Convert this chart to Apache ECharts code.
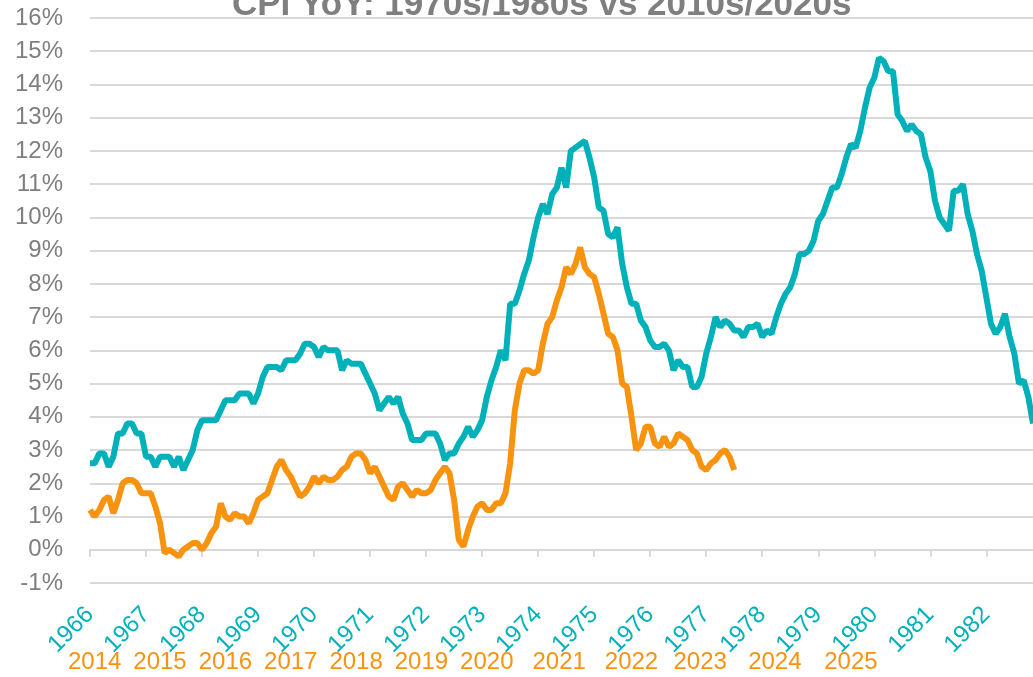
<!DOCTYPE html>
<html>
<head>
<meta charset="utf-8">
<script src="https://cdn.jsdelivr.net/npm/echarts@6/dist/echarts.min.js"></script>
<style>html,body{margin:0;padding:0;background:#fff}#c{width:1033px;height:677px}</style>
</head>
<body>
<div id="c"></div>
<script>
// Teal series: CPI YoY %, monthly, Feb 1966 .. Dec 1982
var teal1966 = [2.6,2.6,2.9,2.9,2.5,2.8,3.5,3.5,3.8,3.8,3.5];
var teal1967 = [3.5,2.8,2.8,2.5,2.8,2.8,2.8,2.5,2.8,2.4,2.7,3.0];
var teal1968 = [3.6,3.9,3.9,3.9,3.9,4.2,4.5,4.5,4.5,4.7,4.7,4.7];
var teal1969 = [4.4,4.7,5.2,5.5,5.5,5.5,5.4,5.7,5.7,5.7,5.9,6.2];
var teal1970 = [6.2,6.1,5.8,6.1,6.0,6.0,6.0,5.4,5.7,5.6,5.6,5.6];
var teal1971 = [5.3,5.0,4.7,4.2,4.4,4.6,4.4,4.6,4.1,3.8,3.3,3.3];
var teal1972 = [3.3,3.5,3.5,3.5,3.2,2.7,2.9,2.9,3.2,3.4,3.7,3.4];
var teal1973 = [3.6,3.9,4.6,5.1,5.5,6.0,5.7,7.4,7.4,7.8,8.3,8.7];
var teal1974 = [9.4,10.0,10.4,10.1,10.7,10.9,11.5,10.9,12.0,12.1,12.2,12.3];
var teal1975 = [11.8,11.2,10.3,10.2,9.5,9.4,9.7,8.6,7.9,7.4,7.4,6.9];
var teal1976 = [6.7,6.3,6.1,6.1,6.2,6.0,5.4,5.7,5.5,5.5,4.9,4.9];
var teal1977 = [5.2,5.9,6.4,7.0,6.7,6.9,6.8,6.6,6.6,6.4,6.7,6.7];
var teal1978 = [6.8,6.4,6.6,6.5,7.0,7.4,7.7,7.9,8.3,8.9,8.9,9.0];
var teal1979 = [9.3,9.9,10.1,10.5,10.9,10.9,11.3,11.8,12.2,12.1,12.6,13.3];
var teal1980 = [13.9,14.2,14.8,14.7,14.4,14.4,13.1,12.9,12.6,12.8,12.6,12.5];
var teal1981 = [11.8,11.4,10.5,10.0,9.8,9.6,10.8,10.8,11.0,10.1,9.6,8.9];
var teal1982 = [8.4,7.6,6.8,6.5,6.7,7.1,6.4,5.9,5.0,5.1,4.6,3.8];

// Orange series: CPI YoY %, monthly, Sep 2013 .. Mar 2025
var orange2013 = [1.2,1.0,1.2,1.5];
var orange2014 = [1.6,1.1,1.5,2.0,2.1,2.1,2.0,1.7,1.7,1.7,1.3,0.8];
var orange2015 = [-0.1,0.0,-0.1,-0.2,0.0,0.1,0.2,0.2,0.0,0.2,0.5,0.7];
var orange2016 = [1.4,1.0,0.9,1.1,1.0,1.0,0.8,1.1,1.5,1.6,1.7,2.1];
var orange2017 = [2.5,2.7,2.4,2.2,1.9,1.6,1.7,1.9,2.2,2.0,2.2,2.1];
var orange2018 = [2.1,2.2,2.4,2.5,2.8,2.9,2.9,2.7,2.3,2.5,2.2,1.9];
var orange2019 = [1.6,1.5,1.9,2.0,1.8,1.6,1.8,1.7,1.7,1.8,2.1,2.3];
var orange2020 = [2.5,2.3,1.5,0.3,0.1,0.6,1.0,1.3,1.4,1.2,1.2,1.4];
var orange2021 = [1.4,1.7,2.6,4.2,5.0,5.4,5.4,5.3,5.4,6.2,6.8,7.0];
var orange2022 = [7.5,7.9,8.5,8.3,8.6,9.1,8.5,8.3,8.2,7.7,7.1,6.5];
var orange2023 = [6.4,6.0,5.0,4.9,4.0,3.0,3.2,3.7,3.7,3.2,3.1,3.4];
var orange2024 = [3.1,3.2,3.5,3.4,3.3,3.0,2.9,2.5,2.4,2.6,2.7,2.9];
var orange2025 = [3.0,2.8,2.4];

// Tick labels
var tealYears = ['1966','1967','1968','1969','1970','1971','1972','1973','1974','1975','1976','1977','1978','1979','1980','1981','1982'];
var orangeYears = ['2014','2015','2016','2017','2018','2019','2020','2021','2022','2023','2024','2025'];
// position of each orange year label, in months along the shared axis
var orangeLabelAt = [1, 15, 29, 43, 57, 71, 85, 100.5, 116, 130.7, 146.7, 163];

var tealYoY = [].concat(teal1966,teal1967,teal1968,teal1969,teal1970,teal1971,teal1972,teal1973,teal1974,teal1975,teal1976,teal1977,teal1978,teal1979,teal1980,teal1981,teal1982);
var orangeYoY = [].concat(orange2013,orange2014,orange2015,orange2016,orange2017,orange2018,orange2019,orange2020,orange2021,orange2022,orange2023,orange2024,orange2025);

var months = [];
for (var i = 0; i < tealYoY.length; i++) months.push(i);

var TEAL = '#00B1BA', ORANGE = '#F7930F', GREY = '#7F7F7F', GRID = '#D9D9D9';
var FONT = 'Liberation Sans, Arial, Helvetica, sans-serif';

var chart = echarts.init(document.getElementById('c'), null, {renderer: 'canvas'});
chart.setOption({
  animation: false,
  backgroundColor: '#fff',
  title: {
    text: 'CPI YoY: 1970s/1980s vs 2010s/2020s',
    left: 232, top: -12, padding: 0,
    textStyle: {fontFamily: FONT, fontSize: 35, fontWeight: 'bold', color: GREY}
  },
  grid: {left: 90, right: 0, top: 18, bottom: 94},
  xAxis: [
    {
      type: 'category', data: months, boundaryGap: false, position: 'bottom',
      axisLine: {show: false, onZero: false}, axisTick: {show: false},
      axisLabel: {
        interval: 11, rotate: 45, margin: 28, color: TEAL, fontSize: 24, fontFamily: FONT,
        formatter: function (v, idx) { return tealYears[Math.round(idx / 12)]; }
      },
      splitLine: {show: false}
    },
    {
      type: 'category', data: months, boundaryGap: false, position: 'bottom',
      axisLine: {show: true, onZero: true, lineStyle: {color: GRID, width: 2}},
      axisTick: {show: true, interval: 11, length: 7, lineStyle: {color: GRID, width: 2}},
      axisLabel: {show: false}, splitLine: {show: false}
    },
    {
      type: 'value', min: 0, max: months.length - 1, position: 'bottom',
      axisLine: {show: false, onZero: false}, axisTick: {show: false}, splitLine: {show: false},
      axisLabel: {
        customValues: orangeLabelAt, margin: 67, color: ORANGE, fontSize: 24, fontFamily: FONT,
        formatter: function (v) { return orangeYears[orangeLabelAt.indexOf(v)]; }
      }
    }
  ],
  yAxis: {
    type: 'value', min: -1, max: 16, interval: 1,
    axisLine: {show: false}, axisTick: {show: false},
    axisLabel: {formatter: '{value}%', color: GREY, fontSize: 24, fontFamily: FONT, margin: 27},
    splitLine: {lineStyle: {color: GRID, width: 2}}
  },
  series: [
    {type: 'line', name: '1966-1982', data: tealYoY, xAxisIndex: 0, showSymbol: false,
     lineStyle: {color: TEAL, width: 6}, itemStyle: {color: TEAL}, z: 3},
    {type: 'line', name: '2013-2025', data: orangeYoY, xAxisIndex: 0, showSymbol: false,
     lineStyle: {color: ORANGE, width: 6}, itemStyle: {color: ORANGE}, z: 4}
  ]
});
</script>
</body>
</html>
